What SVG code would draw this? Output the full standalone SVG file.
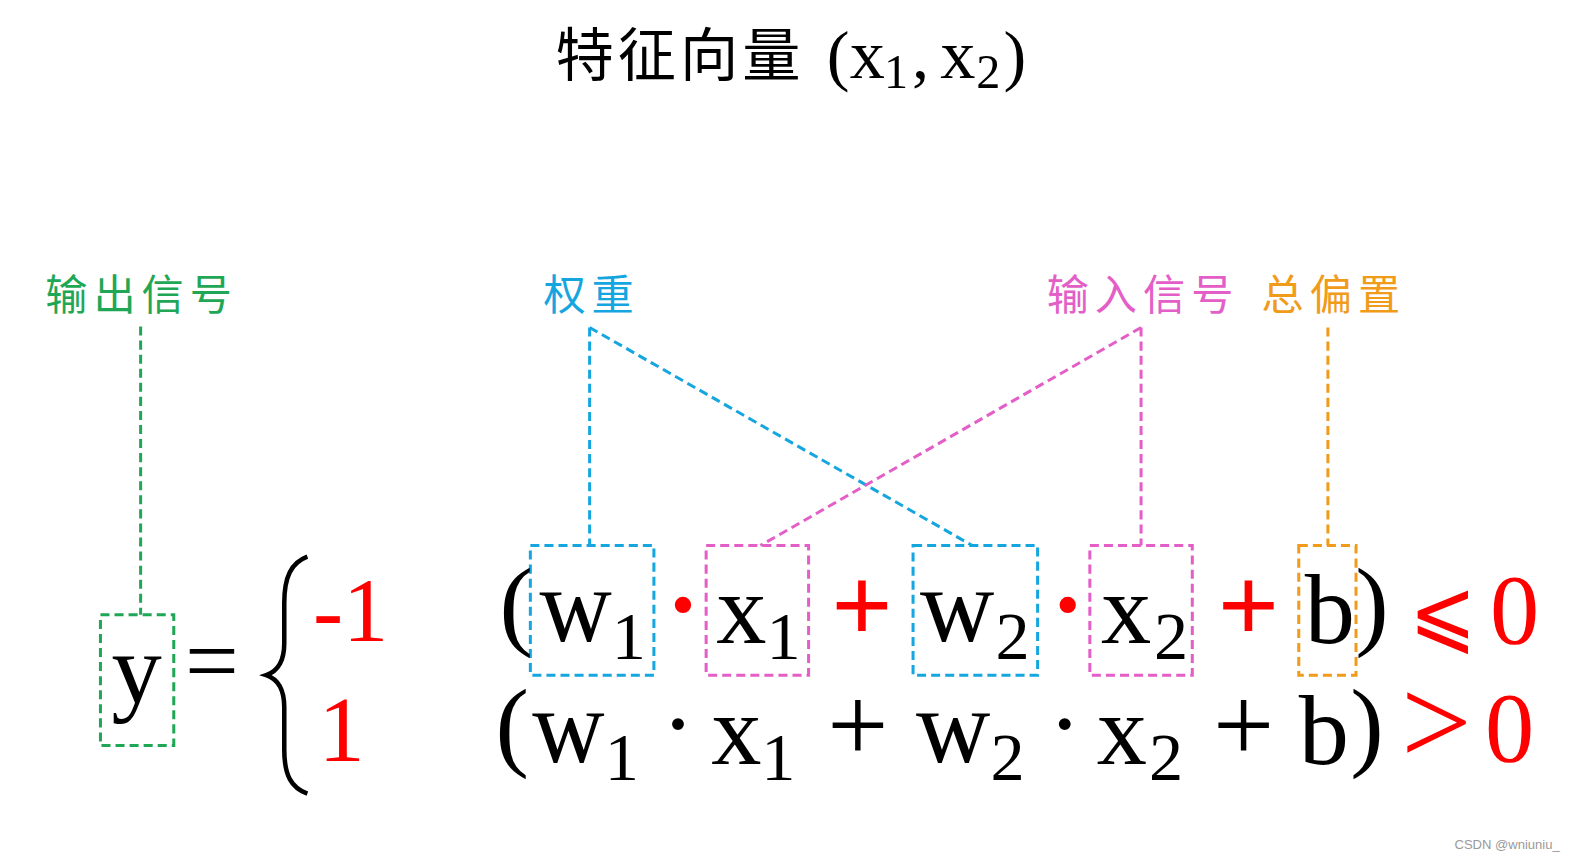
<svg xmlns="http://www.w3.org/2000/svg" width="1575" height="860" viewBox="0 0 1575 860">
<style>
.m{font-family:"Liberation Serif","DejaVu Serif",serif;fill:#000}
.r{fill:#ff0000}
.cjk{font-family:"Noto Sans CJK SC","Noto Sans CJK JP",sans-serif}
.dash{fill:none;stroke-width:3;stroke-dasharray:9 5}
.g{stroke:#1fa756}.b{stroke:#16a6df}.p{stroke:#e35ec7}.o{stroke:#f19b1a}
</style>
<rect width="1575" height="860" fill="#ffffff"/>
<g transform="scale(1.00446,1.00467)">
<g id="title">
<text class="cjk" x="553" y="76" font-size="58" letter-spacing="4" fill="#000">特征向量</text>
<text class="m" x="823" y="78" font-size="68">(</text>
<text class="m" x="846" y="78" font-size="70">x</text>
<text class="m" x="880" y="88" font-size="48">1</text>
<text class="m" x="908" y="78" font-size="68">,</text>
<text class="m" x="936" y="78" font-size="70">x</text>
<text class="m" x="972" y="88" font-size="48">2</text>
<text class="m" x="999" y="78" font-size="68">)</text>
</g>
<g id="label-output"><text class="cjk" x="45" y="309" font-size="42" letter-spacing="6" fill="#1fa756">输出信号</text></g>
<g id="label-weight"><text class="cjk" x="541" y="309" font-size="42" letter-spacing="6" fill="#16a6df">权重</text></g>
<g id="label-input"><text class="cjk" x="1042" y="309" font-size="42" letter-spacing="6" fill="#e35ec7">输入信号</text></g>
<g id="label-bias"><text class="cjk" x="1256" y="309" font-size="42" letter-spacing="6" fill="#f19b1a">总偏置</text></g>
<g id="connectors">
<path class="dash g" d="M140 325 V612"/>
<path class="dash b" d="M587 326 V543 M587 326 L968 543"/>
<path class="dash p" d="M1136 326 V543 M1136 326 L757 543"/>
<path class="dash o" d="M1322 326 V543"/>
</g>
<g id="box-y"><rect class="dash g" x="100" y="612" width="73" height="130"/></g>
<g id="box-w1"><rect class="dash b" x="528" y="543" width="123" height="129"/></g>
<g id="box-x1"><rect class="dash p" x="703" y="543" width="102" height="129"/></g>
<g id="box-w2"><rect class="dash b" x="909" y="543" width="124" height="129"/></g>
<g id="box-x2"><rect class="dash p" x="1085" y="543" width="102" height="129"/></g>
<g id="box-b"><rect class="dash o" x="1293" y="543" width="57" height="129"/></g>
<g id="formula">
<text class="m" x="136" y="700" font-size="100" text-anchor="middle">y</text>
<text class="m" x="211" y="690" font-size="95" text-anchor="middle">=</text>
<path d="M306 554 C290 560 283 574 283 600 L283 640 C283 658 277 668 265 672 C277 676 283 686 283 704 L283 746 C283 772 290 784 306 790" fill="none" stroke="#000" stroke-width="4.5"/>
<text class="m r" x="349" y="638" font-size="90" text-anchor="middle">-1</text>
<text class="m r" x="340" y="757" font-size="92" text-anchor="middle">1</text>
<!-- row 1 -->
<text class="m" x="514" y="634" font-size="100" text-anchor="middle">(</text>
<text class="m" x="537" y="638" font-size="105" textLength="72" lengthAdjust="spacingAndGlyphs">w</text>
<text class="m" x="626" y="656" font-size="68" text-anchor="middle">1</text>
<text class="m r" x="680" y="635" font-size="100" text-anchor="middle" font-weight="bold">·</text>
<text class="m" x="738" y="640" font-size="100" text-anchor="middle">x</text>
<text class="m" x="780" y="656" font-size="68" text-anchor="middle">1</text>
<text class="m r" x="858" y="639" font-size="108" text-anchor="middle" font-weight="bold">+</text>
<text class="m" x="916" y="638" font-size="105" textLength="74" lengthAdjust="spacingAndGlyphs">w</text>
<text class="m" x="1008" y="656" font-size="68" text-anchor="middle">2</text>
<text class="m r" x="1063" y="635" font-size="100" text-anchor="middle" font-weight="bold">·</text>
<text class="m" x="1121" y="640" font-size="100" text-anchor="middle">x</text>
<text class="m" x="1166" y="656" font-size="68" text-anchor="middle">2</text>
<text class="m r" x="1243" y="639" font-size="108" text-anchor="middle" font-weight="bold">+</text>
<text class="m" x="1324" y="640" font-size="100" text-anchor="middle">b</text>
<text class="m" x="1366" y="634" font-size="100" text-anchor="middle">)</text>
<text class="r" x="1403" y="640" font-size="90" font-family="DejaVu Serif,DejaVu Sans,serif" textLength="67" lengthAdjust="spacingAndGlyphs">⩽</text>
<text class="m r" x="1508" y="640" font-size="98" text-anchor="middle">0</text>
<!-- row 2 -->
<text class="m" x="510" y="754" font-size="100" text-anchor="middle">(</text>
<text class="m" x="530" y="758" font-size="105" textLength="72" lengthAdjust="spacingAndGlyphs">w</text>
<text class="m" x="619" y="776" font-size="68" text-anchor="middle">1</text>
<text class="m" x="675" y="753" font-size="100" text-anchor="middle">·</text>
<text class="m" x="733" y="760" font-size="100" text-anchor="middle">x</text>
<text class="m" x="775" y="776" font-size="68" text-anchor="middle">1</text>
<text class="m" x="854" y="757" font-size="108" text-anchor="middle">+</text>
<text class="m" x="912" y="758" font-size="105" textLength="74" lengthAdjust="spacingAndGlyphs">w</text>
<text class="m" x="1003" y="776" font-size="68" text-anchor="middle">2</text>
<text class="m" x="1060" y="753" font-size="100" text-anchor="middle">·</text>
<text class="m" x="1117" y="760" font-size="100" text-anchor="middle">x</text>
<text class="m" x="1161" y="776" font-size="68" text-anchor="middle">2</text>
<text class="m" x="1238" y="757" font-size="108" text-anchor="middle">+</text>
<text class="m" x="1318" y="760" font-size="100" text-anchor="middle">b</text>
<text class="m" x="1361" y="754" font-size="100" text-anchor="middle">)</text>
<text class="m r" x="1430" y="760" font-size="125" text-anchor="middle">&gt;</text>
<text class="m r" x="1503" y="757" font-size="98" text-anchor="middle">0</text>
</g>
<text x="1448" y="845" font-family="Liberation Sans,Arial,sans-serif" font-size="13" fill="#999999">CSDN @wniuniu_</text>
</g>
</svg>
